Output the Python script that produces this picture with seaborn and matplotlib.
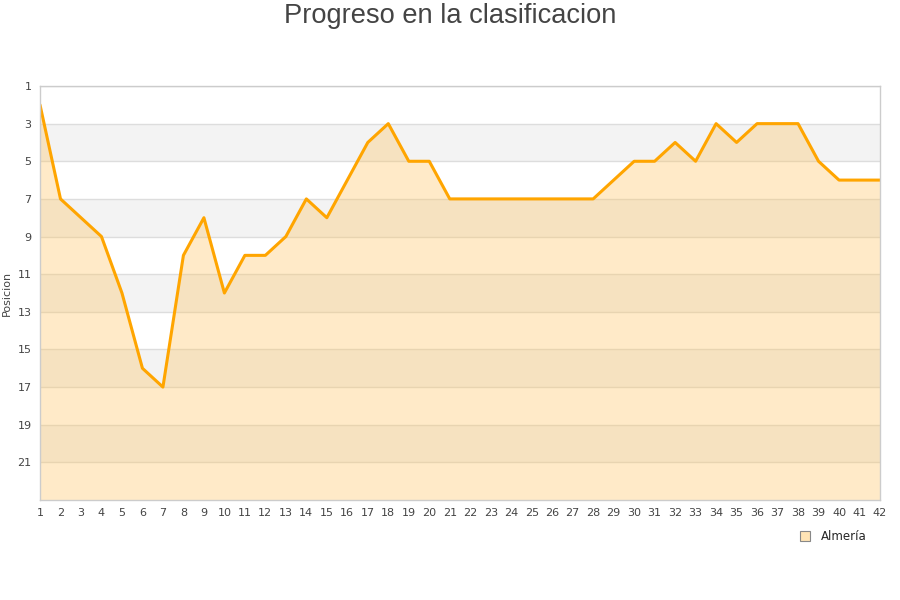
import numpy as np
import pandas as pd
import seaborn as sns
from matplotlib import pyplot as plt
from matplotlib.lines import Line2D

jornadas = list(range(1, 43))
posicion = [2, 7, 8, 9, 12, 16, 17, 10, 8, 12,
            10, 10, 9, 7, 8, 6, 4, 3, 5, 5,
            7, 7, 7, 7, 7, 7, 7, 7, 6, 5,
            5, 4, 5, 3, 4, 3, 3, 3, 5, 6,
            6, 6]
equipo = "Almería"

df = pd.DataFrame({"Jornada": jornadas, "Posicion": posicion})

sns.set_theme(style="white")
plt.rcParams['font.family'] = ['DejaVu Sans']

fig = plt.figure(figsize=(9, 6), dpi=100)
ax = fig.add_axes([40/900, 1-500/600, 840/900, 414/600])

# alternating bands
for lo in range(3, 23, 4):
    ax.axhspan(lo, lo + 2, color='#f3f3f3', zorder=0, lw=0)
for yv in range(1, 23, 2):
    ax.axhline(yv, color='#dddddd', lw=1, zorder=0.5)

ax.fill_between(df["Jornada"], df["Posicion"], 23, color='#FFC258', alpha=0.33, lw=0, zorder=1)
sns.lineplot(data=df, x="Jornada", y="Posicion", color='#FFA500', lw=2.2, ax=ax, zorder=2)

ax.set_xlim(1, 42)
ax.set_ylim(23, 1)
ax.set_xticks(jornadas)
ax.set_yticks(range(1, 23, 2))
ax.tick_params(labelsize=8, colors='#444444', length=0, pad=6)
ax.set_xlabel("")
ax.set_ylabel("Posicion", fontsize=8, color='#444444', labelpad=4)
for s in ax.spines.values():
    s.set_color('#cccccc')
    s.set_linewidth(1)

fig.suptitle("Progreso en la clasificacion", fontsize=19.6, color='#444444', y=0.995,
             family=['Liberation Sans', 'DejaVu Sans'])

handle = Line2D([], [], marker='s', ls='', markersize=7, markerfacecolor='#FFE4B5',
                markeredgecolor='#888888', markeredgewidth=0.8)
fig.legend([handle], [equipo], loc='center', bbox_to_anchor=(830/900, 1-537/600),
           frameon=False, fontsize=8.5, handletextpad=0.3)

fig.savefig("out.png", dpi=100)
